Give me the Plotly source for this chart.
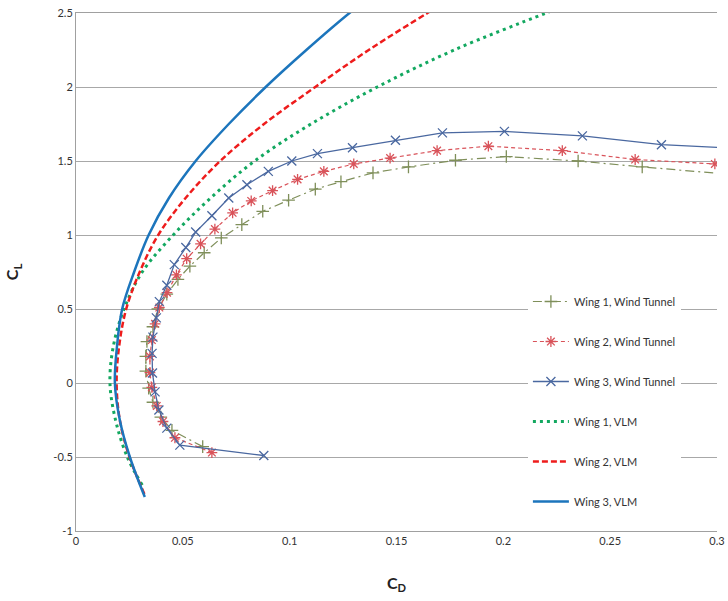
import plotly.graph_objects as go

# ---- Data (CD, CL) ----
w1_wt_cd = [0.0593, 0.0449, 0.0397, 0.0360, 0.0340, 0.0327, 0.0327, 0.0332, 0.0360, 0.0383, 0.0425, 0.0477,
            0.0533, 0.0600, 0.0680, 0.0776, 0.0874, 0.0995, 0.1120, 0.1240, 0.1390, 0.1556, 0.1776, 0.2014,
            0.2350, 0.2650, 0.3100]
w1_wt_cl = [-0.43, -0.32, -0.23, -0.13, -0.035, 0.08, 0.18, 0.28, 0.38, 0.50, 0.60, 0.70,
            0.79, 0.88, 0.98, 1.07, 1.16, 1.235, 1.31, 1.36, 1.42, 1.46, 1.505, 1.53,
            1.50, 1.46, 1.405]

w2_wt_cd = [0.0636, 0.0463, 0.0407, 0.0378, 0.0355, 0.0346, 0.0346, 0.0355, 0.0370, 0.0390, 0.0426, 0.0470,
            0.0518, 0.0583, 0.0650, 0.0733, 0.0820, 0.0920, 0.1037, 0.1160, 0.1300, 0.1470, 0.1690, 0.1930,
            0.2276, 0.2617, 0.2990]
w2_wt_cl = [-0.47, -0.37, -0.26, -0.155, -0.03, 0.07, 0.18, 0.29, 0.40, 0.51, 0.61, 0.73,
            0.84, 0.94, 1.04, 1.15, 1.23, 1.30, 1.376, 1.43, 1.48, 1.52, 1.57, 1.60,
            1.57, 1.51, 1.48]

w3_wt_cd = [0.0879, 0.0486, 0.0425, 0.0388, 0.0370, 0.0358, 0.0356, 0.0360, 0.0376, 0.0390, 0.0425, 0.0460,
            0.0514, 0.0560, 0.0636, 0.0715, 0.0800, 0.0900, 0.1010, 0.1130, 0.1294, 0.1495, 0.1715, 0.2005,
            0.2370, 0.2740, 0.3100]
w3_wt_cl = [-0.49, -0.42, -0.305, -0.183, -0.06, 0.068, 0.20, 0.31, 0.44, 0.55, 0.66, 0.80,
            0.915, 1.02, 1.13, 1.25, 1.34, 1.43, 1.50, 1.55, 1.59, 1.64, 1.69, 1.70,
            1.67, 1.61, 1.585]

w1_vlm_cd = [0.0310, 0.0240, 0.0185, 0.0159, 0.0175, 0.0225, 0.0310, 0.0455, 0.0630, 0.0836, 0.1100,
             0.1410, 0.1770, 0.2200, 0.2380]
w1_vlm_cl = [-0.69, -0.50, -0.25, 0.00, 0.25, 0.50, 0.75, 1.00, 1.25, 1.50, 1.75,
             2.00, 2.25, 2.50, 2.60]

w2_vlm_cd = [0.0320, 0.0250, 0.0205, 0.0190, 0.0202, 0.0235, 0.0298, 0.0385, 0.0513, 0.0675, 0.0880,
             0.1120, 0.1370, 0.1645, 0.1760]
w2_vlm_cl = [-0.75, -0.50, -0.25, 0.00, 0.25, 0.50, 0.75, 1.00, 1.25, 1.50, 1.75,
             2.00, 2.25, 2.50, 2.60]

w3_vlm_cd = [0.0322, 0.0252, 0.0205, 0.0182, 0.0192, 0.0216, 0.0272, 0.0340, 0.0435, 0.0560, 0.0715,
             0.0888, 0.1078, 0.1280, 0.1370]
w3_vlm_cl = [-0.77, -0.50, -0.25, 0.00, 0.25, 0.50, 0.75, 1.00, 1.25, 1.50, 1.75,
             2.00, 2.25, 2.50, 2.60]

x_ticks = [0, 0.05, 0.1, 0.15, 0.2, 0.25, 0.3]
x_tick_text = ["0", "0.05", "0.1", "0.15", "0.2", "0.25", "0.3"]
y_ticks = [-1, -0.5, 0, 0.5, 1, 1.5, 2, 2.5]
y_tick_text = ["-1", "-0.5", "0", "0.5", "1", "1.5", "2", "2.5"]

FONT = "Lato, 'Open Sans', sans-serif"

fig = go.Figure()

fig.add_trace(go.Scatter(
    x=w1_wt_cd, y=w1_wt_cl, mode="lines+markers", name="Wing 1, Wind Tunnel",
    legendgroup="a",
    line=dict(color="#7F8F5A", width=1.2, dash="9px,4px,2px,4px"),
    marker=dict(symbol="cross-thin-open", size=9, line=dict(color="#4E5F28", width=1.3))))
fig.add_trace(go.Scatter(
    x=w2_wt_cd, y=w2_wt_cl, mode="lines+markers", name="Wing 2, Wind Tunnel",
    legendgroup="b",
    line=dict(color="#D9535A", width=1.2, dash="4px,3px"),
    marker=dict(symbol="asterisk-open", size=9, line=dict(color="#B0202C", width=1.3))))
fig.add_trace(go.Scatter(
    x=w3_wt_cd, y=w3_wt_cl, mode="lines+markers", name="Wing 3, Wind Tunnel",
    legendgroup="c",
    line=dict(color="#4A68A0", width=1.3),
    marker=dict(symbol="x-thin-open", size=9, line=dict(color="#4A68A0", width=1.3))))
fig.add_trace(go.Scatter(
    x=w1_vlm_cd, y=w1_vlm_cl, mode="lines", name="Wing 1, VLM",
    legendgroup="d",
    line=dict(color="#13A860", width=3, dash="3px,4px", shape="spline", smoothing=1.0)))
fig.add_trace(go.Scatter(
    x=w2_vlm_cd, y=w2_vlm_cl, mode="lines", name="Wing 2, VLM",
    legendgroup="e",
    line=dict(color="#EE1C1C", width=2.5, dash="6px,3px", shape="spline", smoothing=1.0)))
fig.add_trace(go.Scatter(
    x=w3_vlm_cd, y=w3_vlm_cl, mode="lines", name="Wing 3, VLM",
    legendgroup="f",
    line=dict(color="#1C75BC", width=2.5, shape="spline", smoothing=1.0)))

# white panel behind the legend hiding the gridlines (as in the reference)
fig.add_shape(type="rect", xref="x domain", yref="y domain", x0=0.688, x1=1.0, y0=0.0, y1=0.48,
              fillcolor="white", line=dict(width=0), layer="below")

fig.update_layout(
    width=728, height=601,
    margin=dict(l=76, r=11, t=13, b=70),
    paper_bgcolor="white", plot_bgcolor="white",
    font=dict(family=FONT, size=11, color="#333333"),
    showlegend=True,
    legend=dict(x=0.705, y=0.471, xanchor="left", yanchor="top",
                bgcolor="white", font=dict(size=11, color="#333333", family=FONT),
                tracegroupgap=21, itemwidth=36),
    xaxis=dict(range=[0, 0.3], tickvals=x_ticks, ticktext=x_tick_text, automargin=False,
               showgrid=False, zeroline=False, showline=True, mirror=True,
               linecolor="#A0A0A0", linewidth=1, ticklabeloverflow="allow",
               ticks="", ticklen=0, tickfont=dict(size=11, color="#333333"),
               title=dict(text="<b>C<sub>D</sub></b>", font=dict(size=16, color="#222222"), standoff=31)),
    yaxis=dict(range=[-1, 2.5], tickvals=y_ticks, ticktext=y_tick_text, automargin=False,
               showgrid=True, gridcolor="#A8A8A8", gridwidth=1, zeroline=False,
               showline=True, linecolor="#A0A0A0", linewidth=1, ticklabeloverflow="allow",
               ticks="", tickfont=dict(size=11, color="#333333"),
               title=dict(text="<b>C<sub>L</sub></b>", font=dict(size=16, color="#222222"), standoff=30)),
)

# remove the default 8px page margin so the 728x601 figure fills the window exactly
fig.write_html("out.html", config={"displayModeBar": False},
               post_script="document.body.style.margin='0';")
